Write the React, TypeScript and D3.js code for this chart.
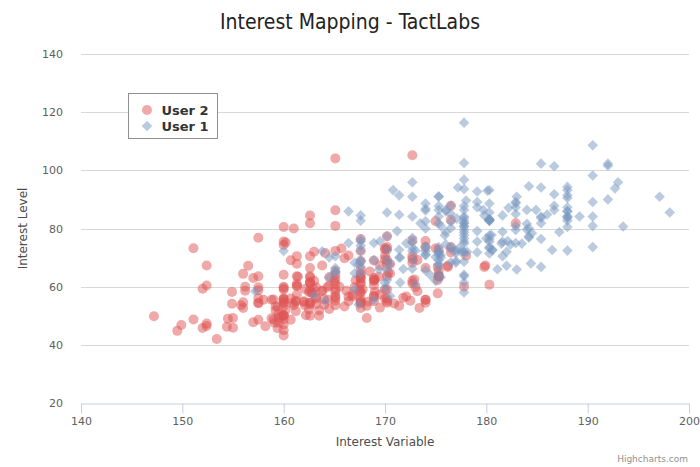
import React, { useEffect, useRef } from 'react';
import * as d3 from 'd3';

const seriesNames = ['User 2', 'User 1'];
const xTicks = [140, 150, 160, 170, 180, 190, 200];
const yTicks = [20, 40, 60, 80, 100, 120, 140];

// [interest variable, interest level]
const user2: [number, number][] = [
  [161.2, 51.6], [167.5, 59.0], [159.5, 49.2], [157.0, 63.0], [155.8, 53.6], [170.0, 59.0], [159.1, 47.6], [166.0, 69.8], [176.2, 66.8], [160.2, 75.2],
  [172.5, 55.2], [170.9, 54.2], [172.9, 62.5], [153.4, 42.0], [160.0, 50.0], [147.2, 49.8], [168.2, 49.2], [175.0, 73.2], [157.0, 47.8], [167.6, 68.8],
  [159.5, 50.6], [175.0, 82.5], [166.8, 57.2], [176.5, 87.8], [170.2, 72.8], [174.0, 54.5], [173.0, 59.8], [179.9, 67.3], [170.5, 67.8], [160.0, 47.0],
  [154.4, 46.2], [162.0, 55.0], [176.5, 83.0], [160.0, 54.4], [152.0, 45.8], [162.1, 53.6], [170.0, 73.2], [160.2, 52.1], [161.3, 67.9], [166.4, 56.6],
  [168.9, 62.3], [163.8, 58.5], [167.6, 54.5], [160.0, 50.2], [161.3, 60.3], [167.6, 58.3], [165.1, 56.2], [160.0, 50.2], [170.0, 72.9], [157.5, 59.8],
  [167.6, 61.0], [160.7, 69.1], [163.2, 55.9], [152.4, 46.5], [157.5, 54.3], [168.3, 54.8], [180.3, 60.7], [165.5, 60.0], [165.0, 62.0], [164.5, 60.3],
  [156.0, 52.7], [160.0, 74.3], [163.0, 62.0], [165.7, 73.1], [161.0, 80.0], [162.0, 54.7], [166.0, 53.2], [174.0, 75.7], [172.7, 61.1], [167.6, 55.7],
  [151.1, 48.7], [164.5, 52.3], [163.5, 50.0], [152.0, 59.3], [169.0, 62.5], [164.0, 55.7], [161.2, 54.8], [155.0, 45.9], [170.0, 70.6], [176.2, 67.2],
  [170.0, 69.4], [162.5, 58.2], [170.3, 64.8], [164.1, 71.6], [169.5, 52.8], [163.2, 59.8], [154.5, 49.0], [159.8, 50.0], [173.2, 69.2], [170.0, 55.9],
  [161.4, 63.4], [169.0, 58.2], [166.2, 58.6], [159.4, 45.7], [162.5, 52.2], [159.0, 48.6], [162.8, 57.8], [159.0, 55.6], [179.8, 66.8], [162.9, 59.4],
  [161.0, 53.6], [151.1, 73.2], [168.2, 53.4], [168.9, 69.0], [173.2, 58.4], [171.8, 56.2], [178.0, 70.6], [164.3, 59.8], [163.0, 72.0], [168.5, 65.2],
  [166.8, 56.6], [172.7, 105.2], [163.5, 51.8], [169.4, 63.4], [167.8, 59.0], [159.5, 47.6], [167.6, 63.0], [161.2, 55.2], [160.0, 45.0], [163.2, 54.0],
  [162.2, 50.2], [161.3, 60.2], [149.5, 44.8], [157.5, 58.8], [163.2, 56.4], [172.7, 62.0], [155.0, 49.2], [156.5, 67.2], [164.0, 53.8], [160.9, 54.4],
  [162.8, 58.0], [167.0, 59.8], [160.0, 54.8], [160.0, 43.2], [168.9, 60.5], [158.2, 46.4], [156.0, 64.4], [160.0, 48.8], [167.1, 62.2], [158.0, 55.5],
  [167.6, 57.8], [156.0, 54.6], [162.1, 59.2], [173.4, 52.7], [159.2, 53.2], [170.5, 64.5], [159.2, 51.8], [157.5, 56.0], [161.3, 63.6], [162.6, 63.2],
  [160.0, 59.5], [168.9, 56.8], [165.1, 64.1], [162.6, 50.0], [165.1, 72.3], [166.4, 55.0], [160.0, 55.9], [152.4, 60.4], [170.2, 69.1], [162.6, 84.5],
  [170.2, 55.9], [158.8, 55.5], [172.7, 69.5], [167.6, 76.4], [162.6, 61.4], [167.6, 65.9], [156.2, 58.6], [175.2, 66.8], [172.1, 56.6], [162.6, 58.6],
  [160.0, 55.9], [165.1, 59.1], [182.9, 81.8], [166.4, 70.7], [165.1, 56.8], [177.8, 60.0], [165.1, 58.2], [175.3, 72.7], [154.9, 54.1], [158.8, 49.1],
  [172.7, 75.9], [168.9, 55.0], [161.3, 57.3], [167.6, 55.0], [165.1, 65.5], [175.3, 65.5], [157.5, 48.6], [163.8, 58.6], [167.6, 63.6], [165.1, 55.2],
  [165.1, 62.7], [168.9, 56.6], [162.6, 53.9], [164.5, 63.2], [176.5, 73.6], [168.9, 62.0], [175.3, 63.6], [159.4, 53.2], [160.0, 53.4], [170.2, 55.0],
  [162.6, 70.5], [167.6, 54.5], [162.6, 54.5], [160.7, 55.9], [160.0, 59.0], [157.5, 63.6], [162.6, 54.5], [152.4, 47.3], [170.2, 67.7], [165.1, 80.9],
  [172.7, 70.5], [165.1, 60.9], [170.2, 63.6], [170.2, 54.5], [170.2, 59.1], [161.3, 70.5], [167.6, 52.7], [167.6, 62.7], [165.1, 86.3], [162.6, 66.4],
  [152.4, 67.3], [168.9, 63.0], [170.2, 73.6], [175.2, 62.3], [175.2, 57.7], [160.0, 55.4], [165.1, 104.1], [174.0, 55.5], [170.2, 77.3], [160.0, 80.5],
  [167.6, 64.5], [167.6, 72.3], [167.6, 61.4], [154.9, 58.2], [162.6, 81.8], [175.3, 63.6], [171.4, 53.4], [157.5, 54.5], [165.1, 53.6], [160.0, 60.0],
  [174.0, 73.6], [162.6, 61.4], [174.0, 55.5], [162.6, 63.6], [161.3, 60.9], [156.2, 60.0], [149.9, 46.8], [169.5, 57.3], [160.0, 64.1], [175.3, 63.6],
  [169.5, 67.3], [160.0, 75.5], [172.7, 68.2], [162.6, 61.4], [157.5, 76.8], [176.5, 71.8], [164.4, 55.5], [160.7, 48.6], [174.0, 66.4], [163.8, 67.3],
];

const user1: [number, number][] = [
  [174.0, 65.6], [175.3, 71.8], [193.5, 80.7], [186.5, 72.6], [187.2, 78.8], [181.5, 74.8], [184.0, 86.4], [184.5, 78.4], [175.0, 62.0], [184.0, 81.6],
  [180.0, 76.6], [177.8, 83.6], [192.0, 90.0], [176.0, 74.6], [174.0, 71.0], [184.0, 79.6], [192.7, 93.8], [171.5, 70.0], [173.0, 72.4], [176.0, 85.9],
  [176.0, 78.8], [180.5, 77.8], [172.7, 66.2], [176.0, 86.4], [173.5, 81.8], [178.0, 89.6], [180.3, 82.8], [180.3, 76.4], [164.5, 63.2], [173.0, 60.9],
  [183.5, 74.8], [175.5, 70.0], [188.0, 72.4], [189.2, 84.1], [172.8, 69.1], [170.0, 59.5], [182.0, 67.2], [170.0, 61.3], [177.8, 68.6], [184.2, 80.1],
  [186.7, 87.8], [171.4, 84.7], [172.7, 73.4], [175.3, 72.1], [180.3, 82.6], [182.9, 88.7], [188.0, 84.1], [177.2, 94.1], [172.1, 74.9], [167.0, 59.1],
  [169.5, 75.6], [174.0, 86.2], [172.7, 75.3], [182.2, 87.1], [164.1, 55.2], [163.0, 57.0], [171.5, 61.4], [184.2, 76.8], [174.0, 86.8], [174.0, 72.2],
  [177.0, 71.6], [186.0, 84.8], [167.0, 68.2], [171.8, 66.1], [182.0, 72.0], [167.0, 64.6], [177.8, 74.8], [164.5, 70.0], [192.0, 101.6], [175.5, 63.2],
  [171.2, 79.1], [181.6, 78.9], [167.4, 67.7], [181.1, 66.0], [177.0, 68.2], [174.5, 63.9], [177.5, 72.0], [170.5, 56.8], [182.4, 74.5], [197.1, 90.9],
  [180.1, 93.0], [175.5, 80.9], [180.6, 72.7], [184.4, 68.0], [175.5, 70.9], [180.6, 72.5], [177.0, 72.5], [177.1, 83.4], [181.6, 75.5], [176.5, 73.0],
  [175.0, 70.2], [174.0, 73.4], [165.1, 70.5], [177.0, 68.9], [192.0, 102.3], [176.5, 68.4], [169.4, 65.9], [182.1, 75.7], [179.8, 84.5], [175.3, 87.7],
  [184.9, 86.4], [177.3, 73.2], [167.4, 53.9], [178.1, 72.0], [168.9, 55.5], [157.2, 58.4], [180.3, 83.2], [170.2, 72.7], [177.8, 64.1], [172.7, 72.3],
  [165.1, 65.0], [186.7, 86.4], [165.1, 65.0], [174.0, 88.6], [175.3, 84.1], [185.4, 66.8], [177.8, 75.5], [180.3, 93.2], [180.3, 82.7], [177.8, 58.0],
  [177.8, 79.5], [177.8, 78.6], [177.8, 71.8], [177.8, 116.4], [163.8, 72.2], [188.0, 83.6], [198.1, 85.5], [175.3, 90.9], [166.4, 85.9], [190.5, 89.1],
  [166.4, 75.0], [177.8, 77.7], [179.7, 86.4], [172.7, 90.9], [190.5, 73.6], [185.4, 76.4], [168.9, 69.1], [167.6, 84.5], [175.3, 64.5], [170.2, 69.1],
  [190.5, 108.6], [177.8, 86.4], [190.5, 80.9], [177.8, 87.7], [184.2, 94.5], [176.5, 80.2], [177.8, 72.0], [180.3, 71.4], [171.4, 72.7], [172.7, 84.1],
  [172.7, 76.8], [177.8, 63.6], [177.8, 80.9], [182.9, 80.9], [170.2, 85.5], [167.6, 68.6], [175.3, 67.7], [165.1, 66.4], [185.4, 102.3], [181.6, 70.5],
  [172.7, 95.9], [190.5, 84.1], [179.1, 87.3], [175.3, 71.8], [170.2, 65.9], [193.0, 95.9], [171.4, 91.4], [177.8, 81.8], [177.8, 96.8], [167.6, 69.1],
  [167.6, 82.7], [180.3, 75.5], [182.9, 79.5], [176.5, 73.6], [186.7, 91.8], [188.0, 84.1], [188.0, 85.9], [177.8, 81.8], [174.0, 82.5], [177.8, 80.5],
  [171.4, 70.0], [185.4, 81.8], [185.4, 84.1], [188.0, 90.5], [188.0, 91.4], [182.9, 89.1], [176.5, 85.0], [175.3, 69.1], [175.3, 73.6], [188.0, 80.5],
  [188.0, 82.7], [175.3, 86.4], [170.5, 67.7], [179.1, 92.7], [177.8, 93.6], [175.3, 70.9], [182.9, 75.0], [170.8, 93.2], [188.0, 93.2], [180.3, 77.7],
  [177.8, 61.4], [185.4, 94.1], [168.9, 75.0], [185.4, 83.6], [180.3, 85.5], [174.0, 73.9], [167.6, 66.8], [182.9, 87.3], [160.0, 72.3], [180.3, 88.6],
  [167.6, 75.5], [186.7, 101.4], [175.3, 91.1], [175.3, 67.3], [175.9, 77.7], [175.3, 81.8], [179.1, 75.5], [181.6, 84.5], [177.8, 76.6], [182.9, 85.0],
  [177.8, 102.5], [184.2, 77.3], [179.1, 71.8], [176.5, 87.9], [188.0, 94.3], [174.0, 70.9], [167.6, 64.5], [170.2, 77.3], [167.6, 72.3], [188.0, 87.3],
  [174.0, 80.0], [176.5, 82.3], [180.3, 73.6], [167.6, 74.1], [188.0, 85.9], [180.3, 73.2], [167.6, 76.3], [183.0, 65.9], [183.0, 90.9], [179.1, 89.1],
  [170.2, 62.3], [177.8, 82.7], [179.1, 79.1], [190.5, 98.2], [177.8, 84.1], [180.3, 83.2], [180.3, 83.2],
];

const FONT = '"DejaVu Sans", Verdana, sans-serif';
const RED = 'rgba(223, 83, 83, 0.5)';
const BLUE = 'rgba(119, 152, 191, 0.5)';

const App = () => {
  const svgRef = useRef<SVGSVGElement>(null);

  useEffect(() => {
    document.body.style.margin = '0';
    const width = 700;
    const height = 467;
    const plot = { left: 81, right: 689, top: 54, bottom: 403 };

    const svg = d3.select(svgRef.current).attr('width', width).attr('height', height);
    svg.selectAll('*').remove();

    svg.append('rect').attr('width', width).attr('height', height).attr('fill', '#fff');

    const x = d3.scaleLinear().domain([140, 200]).range([plot.left, plot.right]);
    const y = d3.scaleLinear().domain([20, 140]).range([plot.bottom, plot.top]);

    // horizontal grid
    svg
      .append('g')
      .selectAll('line')
      .data(yTicks.filter(t => t !== 20))
      .join('line')
      .attr('x1', plot.left)
      .attr('x2', plot.right)
      .attr('y1', d => Math.round(y(d)) + 0.5)
      .attr('y2', d => Math.round(y(d)) + 0.5)
      .attr('stroke', '#d8d8d8')
      .attr('stroke-width', 1);

    // y axis labels
    svg
      .append('g')
      .selectAll('text')
      .data(yTicks)
      .join('text')
      .attr('x', plot.left - 18)
      .attr('y', d => y(d) + 4)
      .attr('text-anchor', 'end')
      .attr('font-family', FONT)
      .attr('font-size', 11)
      .attr('fill', '#606060')
      .text(d => d);

    // x axis
    const xAxis = svg
      .append('g')
      .attr('transform', `translate(0,${plot.bottom + 0.5})`)
      .call(d3.axisBottom(x).tickValues(xTicks).tickSize(10).tickPadding(4).tickSizeOuter(0));
    xAxis.select('.domain').attr('stroke', '#c0d0e0');
    xAxis.selectAll('.tick line').attr('stroke', '#c0d0e0');
    xAxis
      .selectAll('.tick text')
      .attr('font-family', FONT)
      .attr('font-size', 11)
      .attr('fill', '#606060');

    // points
    const circle = d3.symbol(d3.symbolCircle, Math.PI * 25)();
    const diamond = d3.symbol(d3.symbolSquare, 56)();

    svg
      .append('g')
      .selectAll('path')
      .data(user2)
      .join('path')
      .attr('d', circle)
      .attr('transform', d => `translate(${x(d[0])},${y(d[1])})`)
      .attr('fill', RED);

    svg
      .append('g')
      .selectAll('path')
      .data(user1)
      .join('path')
      .attr('d', diamond)
      .attr('transform', d => `translate(${x(d[0])},${y(d[1])}) rotate(45)`)
      .attr('fill', BLUE);

    // title
    svg
      .append('text')
      .attr('x', width / 2)
      .attr('y', 29)
      .attr('text-anchor', 'middle')
      .attr('font-family', '"DejaVu Sans Condensed", "DejaVu Sans", sans-serif')
      .attr('font-size', 21)
      .attr('fill', '#222')
      .text('Interest Mapping - TactLabs');

    // axis titles
    svg
      .append('text')
      .attr('x', (plot.left + plot.right) / 2)
      .attr('y', 446)
      .attr('text-anchor', 'middle')
      .attr('font-family', FONT)
      .attr('font-size', 12)
      .attr('fill', '#4d4d4d')
      .text('Interest Variable');

    svg
      .append('text')
      .attr('transform', `translate(27,${(plot.top + plot.bottom) / 2}) rotate(-90)`)
      .attr('text-anchor', 'middle')
      .attr('font-family', FONT)
      .attr('font-size', 12)
      .attr('fill', '#4d4d4d')
      .text('Interest Level');

    // legend
    const legend = svg.append('g').attr('transform', 'translate(128.5,93.5)');
    legend
      .append('rect')
      .attr('width', 89)
      .attr('height', 45)
      .attr('fill', '#fff')
      .attr('stroke', '#909090')
      .attr('stroke-width', 1);
    const items = legend
      .selectAll('g.item')
      .data(seriesNames)
      .join('g')
      .attr('class', 'item')
      .attr('transform', (_, i) => `translate(0,${16.5 + i * 16})`);
    items
      .append('path')
      .attr('d', (_, i) => (i === 0 ? circle : diamond))
      .attr('transform', (_, i) => `translate(18.5,0)${i === 1 ? ' rotate(45)' : ''}`)
      .attr('fill', (_, i) => (i === 0 ? RED : BLUE));
    items
      .append('text')
      .attr('x', 33)
      .attr('y', 5)
      .attr('font-family', FONT)
      .attr('font-size', 13)
      .attr('font-weight', 'bold')
      .attr('fill', '#333')
      .text(d => d);

    // credits
    svg
      .append('text')
      .attr('x', 688)
      .attr('y', 462)
      .attr('text-anchor', 'end')
      .attr('font-family', FONT)
      .attr('font-size', 9)
      .attr('fill', '#909090')
      .text('Highcharts.com');
  }, []);

  return <svg ref={svgRef} style={{ display: 'block' }}></svg>;
};

export default App;
